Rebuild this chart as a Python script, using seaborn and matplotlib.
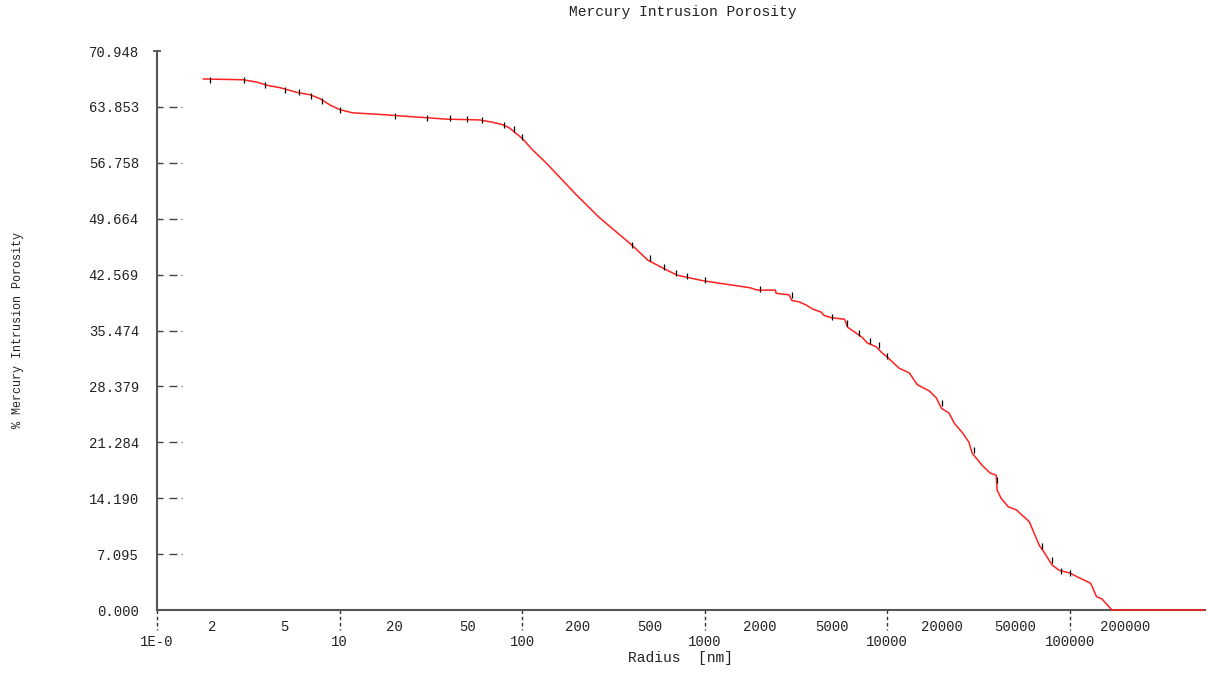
import matplotlib
matplotlib.use('Agg')
import matplotlib.pyplot as plt
import seaborn as sns
import pandas as pd

# curve (radius in nm, % intrusion)
radius = [1.79, 2.96, 3.52, 4.0, 4.7, 5.84, 6.87, 7.8, 8.86, 10.05, 11.8, 16.6,
          25.2, 38.7, 58.4, 69, 78, 85, 99.6, 114, 136, 198, 265, 400, 488, 590,
          705, 975, 1770, 1950, 2440, 2460, 2900, 3000, 3300, 3600, 3900, 4350,
          4500, 4940, 5840, 6060, 6600, 7300, 7760, 8700, 9300, 10000, 11600,
          13200, 14600, 17000, 18600, 19800, 21800, 23300, 25800, 28000, 29200,
          33000, 36500, 39500, 40000, 42000, 46000, 51000, 60000, 68000, 72000,
          80000, 88000, 100000, 110000, 130000, 140000, 150000, 170000, 550000]
porosity = [67.4, 67.3, 67.0, 66.6, 66.3, 65.7, 65.4, 64.9, 64.1, 63.5, 63.1, 62.9,
            62.6, 62.3, 62.2, 61.9, 61.6, 61.2, 59.9, 58.4, 56.7, 52.7, 49.8, 46.3,
            44.4, 43.4, 42.5, 41.8, 40.9, 40.6, 40.6, 40.2, 40.0, 39.3, 39.1, 38.7,
            38.2, 37.8, 37.4, 37.1, 36.9, 35.9, 35.3, 34.6, 33.9, 33.4, 32.7, 32.1,
            30.7, 30.1, 28.6, 27.8, 26.9, 25.6, 25.0, 23.7, 22.5, 21.3, 19.9, 18.4,
            17.4, 17.1, 15.2, 14.2, 13.1, 12.7, 11.2, 8.2, 7.4, 5.7, 5.0, 4.7, 4.2,
            3.4, 1.7, 1.4, 0.0, 0.0]

# small black marks on the curve
mark_r = [1.95, 3.0, 3.9, 5.0, 6.0, 7.0, 8.0, 10, 20, 30, 40, 50, 60, 80, 90, 100,
          400, 500, 600, 700, 800, 1000, 2000, 3000, 5000, 6000, 7000, 8000, 9000,
          10000, 20000, 30000, 40000, 70000, 80000, 90000, 100000]
mark_p = [67.3, 67.3, 66.6, 66.0, 65.7, 65.3, 64.6, 63.5, 62.7, 62.4, 62.4, 62.3,
          62.2, 61.5, 61.0, 60.0, 46.3, 44.7, 43.5, 42.8, 42.4, 41.9, 40.7, 40.0,
          37.2, 36.4, 35.2, 34.2, 33.6, 32.3, 26.3, 20.3, 16.5, 8.1, 6.3, 5.0, 4.7]

y_max = 70.948
y_ticks = [0, 7.0948, 14.1896, 21.2844, 28.3792, 35.474, 42.5688, 49.6636,
           56.7584, 63.8532, 70.948]
y_labels = ['0.000', '7.095', '14.190', '21.284', '28.379', '35.474', '42.569',
            '49.664', '56.758', '63.853', '70.948']
x_major = [1, 10, 100, 1000, 10000, 100000]
x_major_labels = ['1E-0', '10', '100', '1000', '10000', '100000']
x_minor_labelled = [2, 5, 20, 50, 200, 500, 2000, 5000, 20000, 50000, 200000]

df = pd.DataFrame({'radius': radius, 'porosity': porosity})

sns.set_style('white')
plt.rcParams['font.family'] = ['Liberation Mono', 'DejaVu Sans Mono']
txt = '#222222'
axc = '#555555'

fig, ax = plt.subplots(figsize=(12.08, 6.73), dpi=100)
fig.subplots_adjust(left=0.13, right=0.9975, bottom=0.0936, top=0.9242)

sns.lineplot(data=df, x='radius', y='porosity', color='#ff2020', lw=1.1,
             sort=False, estimator=None, ax=ax, zorder=3, clip_on=False)
ax.plot(mark_r, mark_p, ls='none', marker='|', color='black', ms=5, mew=0.9,
        zorder=4)

ax.set_xscale('log')
ax.set_xlim(1, 5.5e5)
ax.set_ylim(0, y_max)
sns.despine(ax=ax)
for s in ['left', 'bottom']:
    ax.spines[s].set_color(axc)
    ax.spines[s].set_linewidth(1.5)

ax.set_yticks(y_ticks, y_labels)
ax.tick_params(axis='y', length=0, pad=13, labelsize=10, labelcolor=txt)
ax.hlines(y_ticks[1:-1], 0, 0.024, transform=ax.get_yaxis_transform(),
          colors='#444444', linestyles=(0, (4.3, 4.3, 5.8, 2.9, 0.8, 10)), lw=1)
ax.hlines([y_max], -0.004, 0.004, transform=ax.get_yaxis_transform(),
          colors=axc, lw=1.3, clip_on=False)

minor = []
minor_lab = []
for d in x_major:
    for k in range(2, 10):
        v = d * k
        if v > 5.5e5:
            break
        minor.append(v)
        minor_lab.append(str(v) if v in x_minor_labelled else '')
ax.set_xticks(x_major, x_major_labels)
ax.set_xticks(minor, minor_lab, minor=True)
ax.tick_params(axis='x', which='major', length=0, pad=18, labelsize=10, labelcolor=txt)
ax.tick_params(axis='x', which='minor', direction='in', length=2.5, width=0.8,
               color=axc, pad=7, labelsize=10, labelcolor=txt)
ax.vlines(x_major, 0, -0.036, transform=ax.get_xaxis_transform(), clip_on=False,
          colors='#333333', linestyles=(0, (2.5, 2)), lw=1)

ax.set_xlabel('')
ax.set_ylabel('')
fig.text(0.565, 0.982, 'Mercury Intrusion Porosity', ha='center', va='center',
         fontsize=10.5, color=txt)
fig.text(0.563, 0.022, 'Radius  [nm]', ha='center', va='center',
         fontsize=10.5, color=txt)
fig.text(0.015, 0.51, '% Mercury Intrusion Porosity', ha='center', va='center',
         rotation=90, fontsize=8.5, color=txt)

fig.savefig('out.png', dpi=100)
